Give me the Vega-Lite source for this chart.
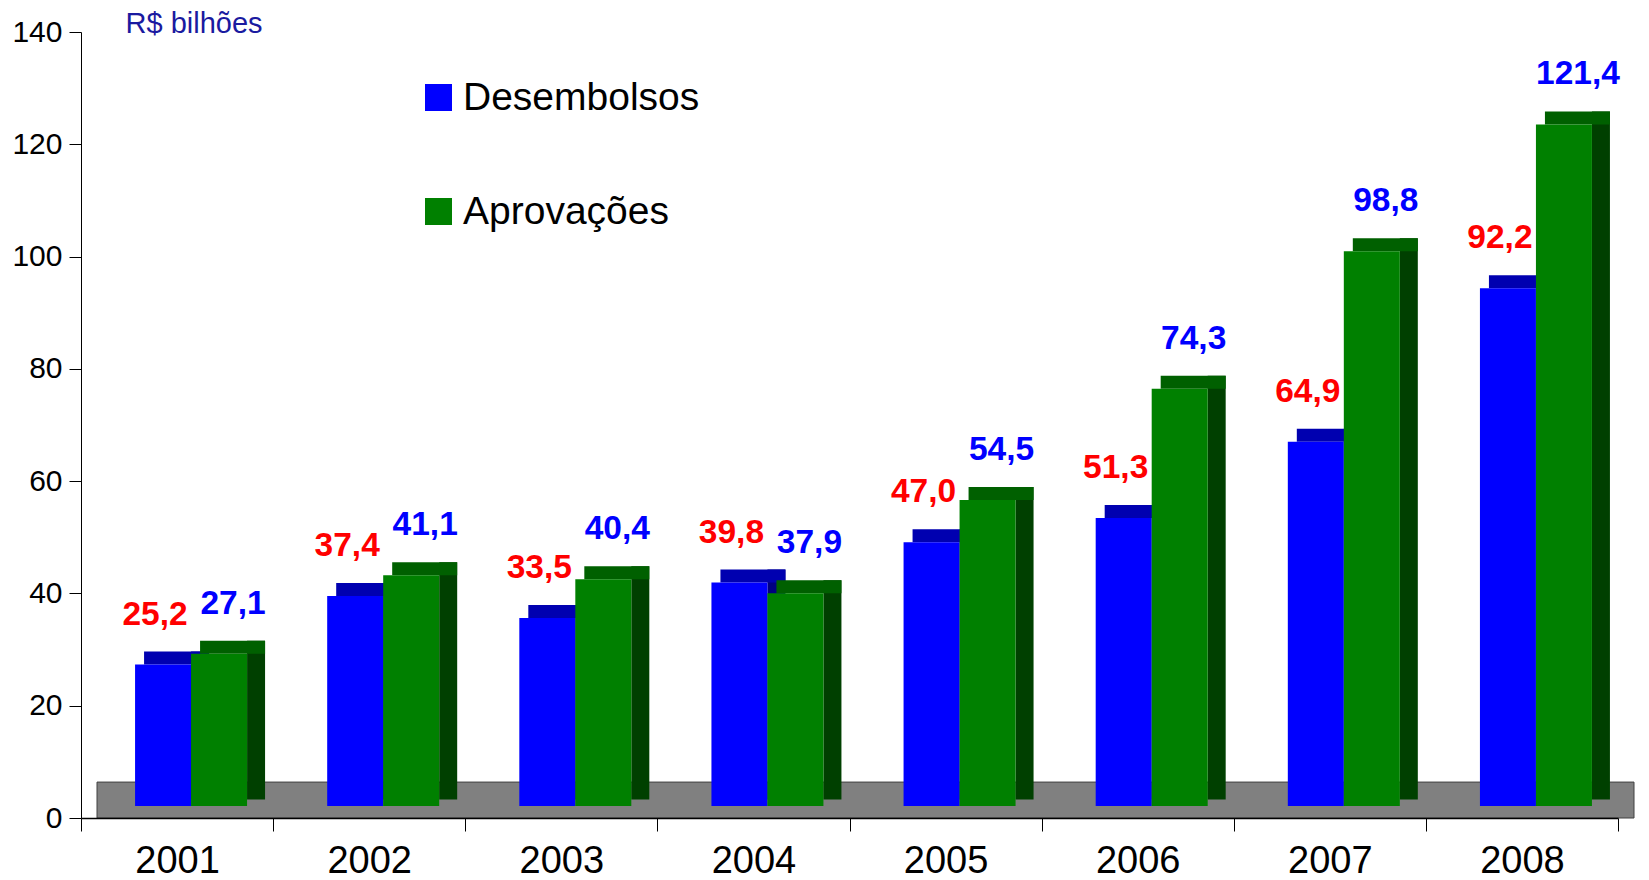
{
  "$schema": "https://vega.github.io/schema/vega-lite/v6.json",
  "width": 1537,
  "height": 786,
  "autosize": "none",
  "padding": {"left": 81, "top": 32, "right": 31, "bottom": 62},
  "background": "white",
  "config": {
    "view": {"stroke": null},
    "font": "Liberation Sans",
    "locale": {"number": {"decimal": ",", "thousands": ".", "grouping": [3], "currency": ["R$ ", ""]}}
  },
  "data": {
    "values": [
      {"ano": "2001", "serie": "Desembolsos", "valor": 25.2},
      {"ano": "2002", "serie": "Desembolsos", "valor": 37.4},
      {"ano": "2003", "serie": "Desembolsos", "valor": 33.5},
      {"ano": "2004", "serie": "Desembolsos", "valor": 39.8},
      {"ano": "2005", "serie": "Desembolsos", "valor": 47.0},
      {"ano": "2006", "serie": "Desembolsos", "valor": 51.3},
      {"ano": "2007", "serie": "Desembolsos", "valor": 64.9},
      {"ano": "2008", "serie": "Desembolsos", "valor": 92.2},
      {"ano": "2001", "serie": "Aprovações", "valor": 27.1},
      {"ano": "2002", "serie": "Aprovações", "valor": 41.1},
      {"ano": "2003", "serie": "Aprovações", "valor": 40.4},
      {"ano": "2004", "serie": "Aprovações", "valor": 37.9},
      {"ano": "2005", "serie": "Aprovações", "valor": 54.5},
      {"ano": "2006", "serie": "Aprovações", "valor": 74.3},
      {"ano": "2007", "serie": "Aprovações", "valor": 98.8},
      {"ano": "2008", "serie": "Aprovações", "valor": 121.4}
    ]
  },
  "encoding": {
    "x": {
      "field": "ano",
      "type": "ordinal",
      "scale": {"paddingInner": 0, "paddingOuter": 0},
      "axis": {
        "title": null,
        "labelAngle": 0,
        "labelFontSize": 38,
        "labelColor": "black",
        "labelPadding": 11,
        "tickBand": "extent",
        "tickSize": 13,
        "tickColor": "black",
        "domainColor": "black",
        "domainWidth": 1.5
      }
    }
  },
  "layer": [
    {
      "transform": [{"filter": "datum.serie === 'Desembolsos' && datum.ano === '2001'"}],
      "mark": {"type": "rect", "color": "#808080", "stroke": "#404040", "strokeWidth": 1, "xOffset": 16, "x2Offset": 16},
      "encoding": {
        "x": {"datum": "2001", "type": "ordinal", "bandPosition": 0},
        "x2": {"datum": "2008", "bandPosition": 1},
        "y": {
          "datum": 0,
          "type": "quantitative",
          "scale": {"domain": [0, 140], "nice": false},
          "axis": {
            "values": [0, 20, 40, 60, 80, 100, 120, 140],
            "title": "R$ bilhões",
            "titleAngle": 0,
            "titleX": 44,
            "titleY": 0,
            "titleAlign": "left",
            "titleBaseline": "alphabetic",
            "titleFontSize": 29,
            "titleFontWeight": "normal",
            "titleColor": "#1a1aa0",
            "labelFontSize": 30,
            "labelColor": "black",
            "labelPadding": 7,
            "tickSize": 12,
            "tickColor": "black",
            "domainColor": "black",
            "grid": false
          }
        },
        "y2": {"datum": 6.4}
      }
    },
    {
      "transform": [{"filter": "datum.serie === 'Desembolsos'"}],
      "mark": {"type": "bar", "color": "#000080", "width": 18, "xOffset": 23, "yOffset": -25, "y2Offset": -18.5},
      "encoding": {"y": {"field": "valor", "type": "quantitative"}, "y2": {"datum": 0}}
    },
    {
      "transform": [{"filter": "datum.serie === 'Aprovações'"}],
      "mark": {"type": "bar", "color": "#004000", "width": 18, "xOffset": 79, "yOffset": -25, "y2Offset": -18.5},
      "encoding": {"y": {"field": "valor", "type": "quantitative"}, "y2": {"datum": 0}}
    },
    {
      "transform": [{"filter": "datum.serie === 'Desembolsos'"}],
      "mark": {"type": "bar", "color": "#0000B0", "width": 65, "xOffset": -0.5, "yOffset": -25, "y2Offset": -12},
      "encoding": {"y": {"field": "valor", "type": "quantitative"}, "y2": {"field": "valor"}}
    },
    {
      "transform": [{"filter": "datum.serie === 'Aprovações'"}],
      "mark": {"type": "bar", "color": "#006000", "width": 65, "xOffset": 55.5, "yOffset": -25, "y2Offset": -12},
      "encoding": {"y": {"field": "valor", "type": "quantitative"}, "y2": {"field": "valor"}}
    },
    {
      "transform": [{"filter": "datum.serie === 'Desembolsos'"}],
      "mark": {"type": "bar", "width": 56, "xOffset": -14, "yOffset": -12, "y2Offset": -12},
      "encoding": {
        "y": {"field": "valor", "type": "quantitative"},
        "y2": {"datum": 0},
        "color": {
          "field": "serie",
          "type": "nominal",
          "scale": {"domain": ["Desembolsos", "Aprovações"], "range": ["#0000FF", "#008000"]},
          "legend": {
            "title": null,
            "orient": "none",
            "legendX": 338,
            "legendY": 46,
            "symbolType": "square",
            "symbolSize": 729,
            "symbolStrokeWidth": 0,
            "symbolOpacity": 1,
            "labelFontSize": 39,
            "labelColor": "black",
            "labelOffset": 5,
            "labelLimit": 0,
            "rowPadding": 74,
            "padding": 0
          }
        }
      }
    },
    {
      "transform": [{"filter": "datum.serie === 'Aprovações'"}],
      "mark": {"type": "bar", "width": 56, "xOffset": 42, "yOffset": -12, "y2Offset": -12},
      "encoding": {
        "y": {"field": "valor", "type": "quantitative"},
        "y2": {"datum": 0},
        "color": {"field": "serie", "type": "nominal"}
      }
    },
    {
      "transform": [{"filter": "datum.serie === 'Desembolsos'"}],
      "mark": {"type": "text", "color": "#FF0000", "fontSize": 33.5, "fontWeight": "bold", "align": "center", "baseline": "alphabetic", "xOffset": -22, "yOffset": -52},
      "encoding": {
        "y": {"field": "valor", "type": "quantitative"},
        "text": {"field": "valor", "type": "quantitative", "format": ".1f"}
      }
    },
    {
      "transform": [{"filter": "datum.serie === 'Aprovações'"}],
      "mark": {"type": "text", "color": "#0000FF", "fontSize": 33.5, "fontWeight": "bold", "align": "center", "baseline": "alphabetic", "xOffset": 56, "yOffset": -52},
      "encoding": {
        "y": {"field": "valor", "type": "quantitative"},
        "text": {"field": "valor", "type": "quantitative", "format": ".1f"}
      }
    }
  ]
}
